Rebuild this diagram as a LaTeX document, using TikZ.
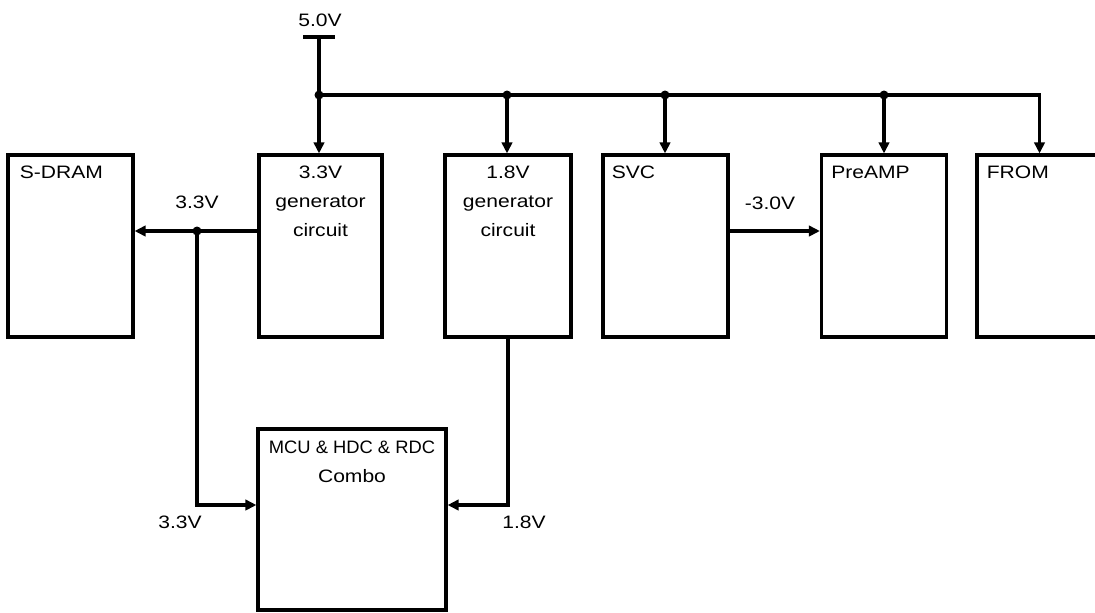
\documentclass[tikz,border=0pt]{standalone}
\usepackage{fontspec}
\setmainfont{Liberation Sans}[FakeStretch=1.17]
\newfontfamily\narrowfont{Liberation Sans}[FakeStretch=1.02]
\usetikzlibrary{arrows.meta,calc,positioning}

\begin{document}
\begin{tikzpicture}[x=0.5pt, y=-0.5pt,
    block/.style={draw, line width=1.6pt, minimum width=62.5pt, minimum height=91pt, inner sep=0pt},
    conn/.style={line width=1.6pt},
    arr/.style={conn, -{Triangle[length=5.5pt,width=5.2pt]}},
    txt/.style={inner sep=0pt, font=\fontsize{9}{14.5}\selectfont},
    dot/.style={circle, fill, inner sep=0pt, minimum size=4.5pt}]
    \useasboundingbox (0,0) rectangle (1095,612);
    \clip (0,0) rectangle (1095,612);

    % blocks
    \node[block] (sdram) at (70.5,246) {};
    \node[block, minimum width=61.5pt] (gen33) at (320.5,246) {};
    \node[block, minimum width=63pt] (gen18) at (508,246) {};
    \node[block] (svc) at (665.5,246) {};
    \node[block] (preamp) at (884,246) {};
    \node[block] (from) at (1039.5,246) {};
    \node[block, minimum width=94pt, minimum height=90.5pt] (mcu) at (352,519.5) {};

    % block texts
    \node[txt, anchor=north west] (sdramtxt) at ($(sdram.north west)+(13,12)$) {S-DRAM};
    \node[txt, anchor=north, align=center] (gen33txt) at ($(gen33.north)+(0,12)$) {3.3V\\generator\\circuit};
    \node[txt, anchor=north, align=center] (gen18txt) at ($(gen18.north)+(0,12)$) {1.8V\\generator\\circuit};
    \node[txt, anchor=north west] (svctxt) at ($(svc.north west)+(10,12)$) {SVC};
    \node[txt, anchor=north west] (preamptxt) at ($(preamp.north west)+(11,12)$) {PreAMP};
    \node[txt, anchor=north west] (fromtxt) at ($(from.north west)+(11,12)$) {FROM};
    \node[txt, anchor=north, align=center] (mcutxt) at ($(mcu.north)+(0,13)$) {{\narrowfont MCU \& HDC \& RDC}\\Combo};

    % 5.0V supply and bus
    \coordinate (src) at (319,37);
    \node[txt, anchor=base] (v50) at (320,26) {5.0V};
    \draw[conn] ([xshift=-8pt]src) -- ([xshift=8pt]src);
    \node[dot] (j0) at (319,95) {};
    \node[dot] (j1) at (507,95) {};
    \node[dot] (j2) at (665,95) {};
    \node[dot] (j3) at (884,95) {};
    \draw[conn] (src) -- (j0.center);
    \draw[arr] (j0.center) -| (from.north);
    \draw[arr] (j0.center) -- (j0 |- gen33.north);
    \draw[arr] (j1.center) -- (j1 |- gen18.north);
    \draw[arr] (j2.center) -- (j2 |- svc.north);
    \draw[arr] (j3.center) -- (j3 |- preamp.north);

    % 3.3V and 1.8V rails
    \node[dot] (j5) at (197,231) {};
    \coordinate (lvl) at (0,505);
    \draw[arr] (gen33.west |- j5) -- (sdram.east |- j5);
    \draw[arr] (j5.center) |- (mcu.west |- lvl);
    \draw[arr] (gen18.south) |- (mcu.east |- lvl);
    \draw[arr] (svc.east |- j5) -- (preamp.west |- j5);

    % rail labels
    \node[txt, anchor=base] (l33a) at (197,208) {3.3V};
    \node[txt, anchor=base] (l30) at (770,209) {-3.0V};
    \node[txt, anchor=base] (l33b) at (180,528) {3.3V};
    \node[txt, anchor=base] (l18) at (524,528) {1.8V};
\end{tikzpicture}
\end{document}
